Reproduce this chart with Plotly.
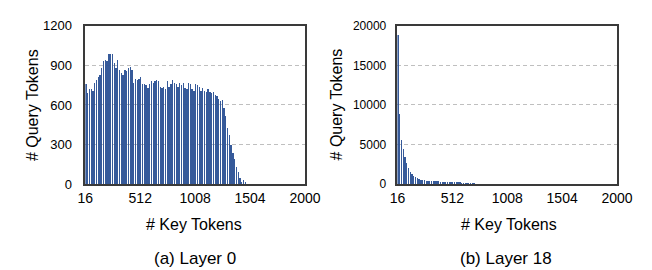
import plotly.graph_objects as go

BIN = 16
START = 16
layer0_counts = [
    760, 690, 720, 725, 710, 770, 790, 810, 830, 880,
    935, 945, 935, 990, 990, 990, 920, 880, 945, 870,
    840, 830, 870, 860, 880, 890, 870, 770, 800, 790,
    800, 810, 760, 760, 750, 730, 760, 785, 770, 780,
    790, 780, 740, 730, 740, 720, 780, 740, 760, 790,
    770, 760, 740, 770, 750, 770, 730, 720, 770, 760,
    720, 710, 760, 750, 740, 710, 730, 710, 700, 720,
    700, 690, 700, 680, 670, 650, 630, 640, 580, 520,
    430, 370, 300, 240, 190, 130, 90, 50, 20, 30,
    15, 3,
]
layer18_counts = [
    18900, 8850, 5650, 4400, 3450, 2700, 2100, 1600, 1250, 980,
    850, 750, 650, 580, 520, 480, 450, 420, 400, 390,
    380, 370, 360, 350, 340, 330, 320, 300, 290, 280,
    270, 260, 250, 240, 230, 220, 210, 200, 190, 180,
    170, 160, 150, 140,
]
x_ticks = [16, 512, 1008, 1504, 2000]
y0_ticks = [0, 300, 600, 900, 1200]
y1_ticks = [0, 5000, 10000, 15000, 20000]

def centers(vals):
    return [START + BIN * i + BIN / 2 for i in range(len(vals))]

FONT = "Liberation Sans, Arial, sans-serif"
BAR_COLOR = "rgba(47,85,151,0.97)"
LINE = "#3A3A3A"

fig = go.Figure()
fig.add_trace(go.Bar(x=centers(layer0_counts), y=layer0_counts, width=BIN * 0.75,
                     marker=dict(color=BAR_COLOR, line=dict(width=0)),
                     xaxis="x", yaxis="y", showlegend=False))
fig.add_trace(go.Bar(x=centers(layer18_counts), y=layer18_counts, width=BIN * 0.75,
                     marker=dict(color=BAR_COLOR, line=dict(width=0)),
                     xaxis="x2", yaxis="y2", showlegend=False))

W, H = 652, 270
ydom = [(H - 179) / H, (H - 11.5) / H]

common_x = dict(range=[16, 2000], tickvals=x_ticks, ticktext=[str(t) for t in x_ticks],
                showline=True, linecolor=LINE, linewidth=1.5, mirror=True,
                showgrid=False, zeroline=False, ticks="",
                tickfont=dict(size=14, color="#000000", family=FONT))
common_y = dict(showline=True, linecolor=LINE, linewidth=1.5, mirror=True,
                showgrid=True, gridcolor="#BFBFBF", griddash="4px,3px", gridwidth=1,
                zeroline=False, ticks="outside", tickcolor="rgba(0,0,0,0)")

fig.update_layout(
    width=W, height=H,
    margin=dict(l=0, r=0, t=0, b=0),
    paper_bgcolor="white", plot_bgcolor="white",
    bargap=0,
    font=dict(family=FONT, color="#000000"),
    xaxis=dict(domain=[72 / W, 300 / W], anchor="y", **common_x),
    yaxis=dict(domain=ydom, anchor="x", range=[0, 1200], tickvals=y0_ticks,
               ticktext=[str(t) for t in y0_ticks], ticklen=9,
               tickfont=dict(size=13, color="#000000", family=FONT), **common_y),
    xaxis2=dict(domain=[396 / W, 624 / W], anchor="y2", **common_x),
    yaxis2=dict(domain=ydom, anchor="x2", range=[0, 20000], tickvals=y1_ticks,
                ticktext=[str(t) for t in y1_ticks], ticklen=7,
                tickfont=dict(size=12, color="#000000", family=FONT), **common_y),
)

annots = [
    dict(text="# Query Tokens", x=17 / W, y=(H - 95) / H, angle=-90, size=16),
    dict(text="# Query Tokens", x=333 / W, y=(H - 95) / H, angle=-90, size=16),
    dict(text="# Key Tokens", x=185 / W, y=(H - 222) / H, angle=0, size=16),
    dict(text="# Key Tokens", x=512 / W, y=(H - 222) / H, angle=0, size=16),
    dict(text="(a) Layer 0", x=186 / W, y=(H - 258) / H, angle=0, size=17),
    dict(text="(b) Layer 18", x=509 / W, y=(H - 258) / H, angle=0, size=17),
]
for a in annots:
    fig.add_annotation(text=a["text"], x=a["x"], y=a["y"], xref="paper", yref="paper",
                       xanchor="center", yanchor="middle", showarrow=False,
                       textangle=a["angle"],
                       font=dict(size=a["size"], family=FONT, color="#000000"))

fig.write_html("out.html")
